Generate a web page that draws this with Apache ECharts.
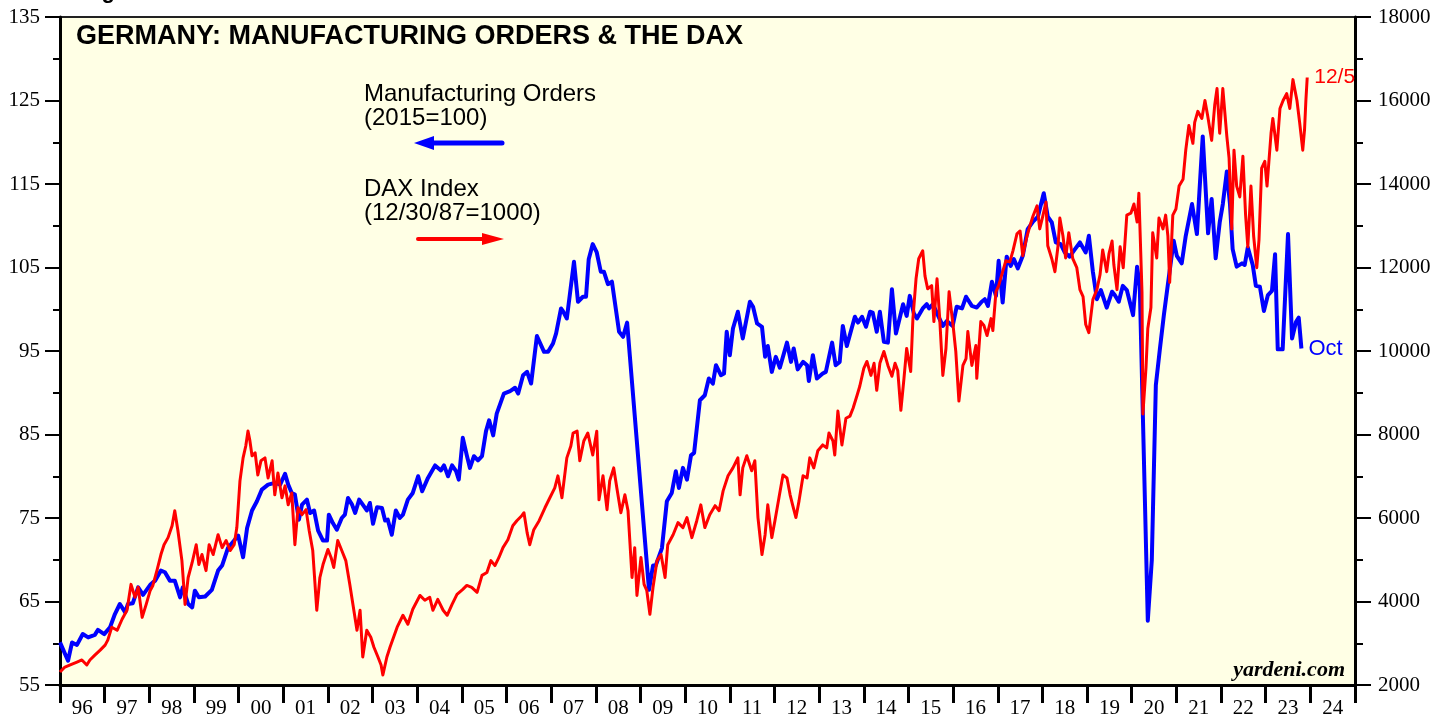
<!DOCTYPE html>
<html>
<head>
<meta charset="utf-8">
<title>Germany: Manufacturing Orders & the DAX</title>
<script src="https://cdn.jsdelivr.net/npm/echarts@6/dist/echarts.min.js"></script>
<style>
html, body { margin: 0; padding: 0; background: #fff; }
#chart { width: 1450px; height: 719px; }
</style>
</head>
<body>
<div id="chart"></div>
<script>
// x axis labels, one per calendar year
let yearLabels = ['96','97','98','99','00','01','02','03','04','05','06','07','08','09','10',
    '11','12','13','14','15','16','17','18','19','20','21','22','23','24'];

// manufacturing orders (2015=100), left axis
let orderYears = [
    1996.00,1996.18,1996.27,1996.38,1996.51,1996.63,1996.78,1996.85,1996.99,
    1997.12,1997.23,1997.34,1997.46,1997.52,1997.63,1997.75,1997.86,
    1998.02,1998.13,1998.26,1998.35,1998.46,1998.57,1998.69,1998.75,1998.87,1998.96,
    1999.02,1999.11,1999.25,1999.40,1999.54,1999.63,1999.76,1999.90,1999.99,
    2000.10,2000.19,2000.30,2000.41,2000.52,2000.66,2000.81,2000.93,
    2001.04,2001.11,2001.19,2001.26,2001.35,2001.42,2001.53,2001.60,2001.69,2001.78,2001.89,2001.98,
    2002.02,2002.11,2002.20,2002.31,2002.38,2002.45,2002.54,2002.61,2002.70,2002.78,2002.87,2002.94,
    2003.01,2003.10,2003.21,2003.28,2003.34,2003.43,2003.52,2003.61,2003.68,2003.79,2003.90,
    2004.02,2004.11,2004.24,2004.40,2004.53,2004.60,2004.69,2004.78,2004.87,2004.93,
    2005.02,2005.11,2005.18,2005.27,2005.36,2005.45,2005.54,2005.61,2005.70,2005.78,2005.94,
    2006.08,2006.19,2006.26,2006.37,2006.46,2006.55,2006.68,2006.84,2006.93,
    2007.04,2007.11,2007.22,2007.26,2007.35,2007.51,2007.60,2007.71,2007.78,2007.84,2007.93,
    2008.02,2008.11,2008.18,2008.27,2008.36,2008.52,2008.61,2008.70,
    2009.19,2009.28,2009.34,2009.48,2009.59,2009.70,2009.79,2009.86,2009.95,
    2010.04,2010.13,2010.20,2010.33,2010.44,2010.53,2010.62,2010.69,2010.80,2010.87,2010.93,
    2011.00,2011.07,2011.18,2011.29,2011.45,2011.52,2011.61,2011.72,2011.79,2011.85,2011.94,
    2012.03,2012.12,2012.28,2012.37,2012.43,2012.52,2012.64,2012.73,2012.77,2012.86,2012.95,
    2013.08,2013.15,2013.29,2013.37,2013.46,2013.53,2013.62,2013.80,2013.87,2013.96,
    2014.05,2014.14,2014.20,2014.29,2014.36,2014.45,2014.54,2014.63,2014.72,2014.88,2014.96,
    2015.03,2015.12,2015.19,2015.32,2015.41,2015.46,2015.55,2015.64,2015.77,2015.86,2015.99,
    2016.08,2016.20,2016.29,2016.42,2016.53,2016.64,2016.71,2016.78,2016.87,2016.96,
    2017.02,2017.11,2017.20,2017.29,2017.36,2017.45,2017.56,2017.67,2017.79,2017.90,
    2018.03,2018.12,2018.21,2018.30,2018.41,2018.50,2018.61,2018.73,2018.84,2018.97,
    2019.04,2019.13,2019.22,2019.31,2019.44,2019.56,2019.62,2019.71,2019.80,2019.89,
    2020.03,2020.12,2020.18,2020.36,2020.45,2020.54,2020.63,2020.72,2020.81,2020.94,
    2021.01,2021.12,2021.21,2021.35,2021.46,2021.59,2021.71,2021.79,2021.88,2021.97,
    2022.04,2022.13,2022.20,2022.26,2022.35,2022.47,2022.53,2022.60,2022.71,2022.78,2022.87,2022.96,
    2023.05,2023.14,2023.21,2023.27,2023.38,2023.50,2023.59,2023.68,2023.74,2023.80
];
let orderValues = [
    60.1,57.9,60.1,59.8,61.1,60.7,61.0,61.6,61.1,
    61.9,63.5,64.7,63.7,64.7,64.8,66.7,65.8,
    67.0,67.5,68.7,68.5,67.5,67.5,65.5,66.7,64.7,64.3,
    66.3,65.5,65.6,66.4,68.7,69.3,71.4,72.3,72.9,
    70.3,73.8,75.9,77.0,78.4,79.0,79.2,79.0,
    80.3,79.0,78.0,77.8,74.8,76.6,77.2,75.6,75.9,73.5,72.3,72.3,
    75.4,74.4,73.6,75.0,75.4,77.4,76.6,75.6,77.2,76.6,75.9,76.8,
    74.3,76.3,76.2,74.7,74.8,73.0,75.9,75.0,75.4,77.2,78.0,
    80.0,78.2,79.8,81.3,80.7,81.3,80.0,81.3,80.6,79.6,
    84.6,82.5,81.0,82.4,81.9,82.4,85.4,86.7,84.9,87.5,89.9,
    90.2,90.6,89.9,92.1,92.5,91.1,96.8,94.9,94.9,
    95.9,97.1,100.1,99.8,98.9,105.7,100.9,101.5,101.5,106.0,107.8,
    106.8,104.5,104.5,103.0,103.3,97.3,96.7,98.4,
    66.4,69.3,69.3,71.4,77.0,78.0,80.6,78.6,81.0,
    79.6,82.5,82.8,89.1,89.7,91.7,91.1,93.3,92.1,92.3,97.3,
    94.5,97.7,99.7,96.5,100.9,100.3,98.3,97.9,94.3,95.6,92.5,
    94.3,93.0,96.0,93.7,95.3,92.8,93.7,93.3,91.4,94.5,91.7,
    92.3,92.5,96.0,93.3,93.7,98.0,95.6,99.1,98.4,99.1,
    97.9,99.7,99.6,97.3,99.7,96.1,96.0,102.4,97.1,100.6,99.2,
    101.6,99.5,98.9,100.1,100.6,100.1,100.6,99.5,98.0,98.6,98.0,
    100.3,100.1,101.5,100.4,100.2,100.9,101.2,100.4,103.3,101.6,
    105.8,100.8,106.3,105.2,106.0,104.9,106.4,109.6,110.5,111.1,
    113.9,111.1,110.4,108.0,107.8,106.8,106.3,107.2,108.0,106.8,
    108.8,104.5,101.2,102.3,100.2,102.1,101.7,100.9,102.8,102.3,
    99.3,105.1,102.8,62.7,70.0,90.9,95.2,99.3,103.0,108.2,
    106.4,105.5,108.8,112.6,109.0,120.7,109.1,113.2,106.1,110.4,
    112.6,116.5,112.6,107.2,105.1,105.5,105.3,107.4,105.3,102.8,102.7,99.8,
    101.7,102.2,106.6,95.2,95.2,109.0,96.5,98.5,99.0,95.3
];

// DAX index (12/30/87=1000), right axis
let daxYears = [
    1996.00,1996.11,1996.27,1996.38,1996.49,1996.60,1996.67,1996.78,1996.90,
    1997.01,1997.07,1997.16,1997.28,1997.39,1997.50,1997.59,1997.68,1997.75,1997.84,1997.93,
    1998.02,1998.08,1998.17,1998.26,1998.33,1998.42,1998.51,1998.57,1998.64,1998.73,1998.80,1998.87,1998.96,
    1999.05,1999.11,1999.18,1999.27,1999.34,1999.43,1999.54,1999.63,1999.72,1999.81,1999.90,1999.96,
    2000.03,2000.10,2000.16,2000.21,2000.25,2000.30,2000.37,2000.43,2000.50,2000.59,2000.66,2000.75,2000.81,2000.88,2000.97,
    2001.04,2001.11,2001.19,2001.26,2001.33,2001.42,2001.51,2001.58,2001.66,2001.75,2001.82,2001.89,
    2002.00,2002.07,2002.13,2002.22,2002.31,2002.40,2002.49,2002.56,2002.65,2002.72,2002.78,2002.87,2002.96,
    2003.03,2003.12,2003.19,2003.23,2003.32,2003.39,2003.55,2003.68,2003.79,2003.90,
    2004.06,2004.17,2004.28,2004.35,2004.46,2004.58,2004.67,2004.78,2004.89,
    2005.02,2005.11,2005.22,2005.34,2005.45,2005.56,2005.65,2005.74,2005.83,2005.92,
    2006.03,2006.14,2006.23,2006.34,2006.39,2006.46,2006.52,2006.61,2006.73,2006.86,2006.97,
    2007.08,2007.15,2007.24,2007.35,2007.44,2007.49,2007.58,2007.64,2007.73,2007.82,2007.93,
    2008.02,2008.07,2008.16,2008.25,2008.31,2008.40,2008.47,2008.56,2008.65,2008.72,2008.81,2008.87,2008.92,
    2009.01,2009.08,2009.14,2009.21,2009.28,2009.37,2009.46,2009.55,2009.61,2009.73,2009.84,2009.95,
    2010.04,2010.15,2010.26,2010.35,2010.44,2010.55,2010.67,2010.76,2010.85,2010.96,
    2011.07,2011.18,2011.23,2011.29,2011.38,2011.49,2011.56,2011.63,2011.72,2011.79,2011.85,2011.94,
    2012.01,2012.10,2012.19,2012.28,2012.35,2012.41,2012.48,2012.55,2012.64,2012.73,2012.79,2012.88,2012.97,
    2013.08,2013.17,2013.22,2013.31,2013.35,2013.42,2013.51,2013.60,2013.69,2013.76,2013.85,2013.91,
    2014.00,2014.07,2014.16,2014.23,2014.29,2014.36,2014.45,2014.54,2014.63,2014.70,2014.76,2014.83,2014.90,2014.96,
    2015.05,2015.10,2015.17,2015.23,2015.32,2015.37,2015.43,2015.52,2015.57,2015.64,2015.70,2015.77,2015.84,2015.91,
    2016.00,2016.06,2016.13,2016.22,2016.29,2016.33,2016.42,2016.51,2016.53,2016.62,2016.69,2016.76,2016.85,2016.89,2016.96,
    2017.02,2017.11,2017.18,2017.27,2017.34,2017.43,2017.50,2017.56,2017.65,2017.72,2017.79,2017.88,2017.94,
    2018.01,2018.08,2018.12,2018.21,2018.28,2018.35,2018.39,2018.46,2018.52,2018.59,2018.68,2018.77,2018.84,2018.91,2018.97,
    2019.04,2019.13,2019.22,2019.29,2019.35,2019.44,2019.49,2019.56,2019.60,2019.67,2019.74,2019.81,2019.89,2019.98,
    2020.05,2020.12,2020.16,2020.23,2020.25,2020.32,2020.36,2020.43,2020.47,2020.56,2020.61,2020.70,2020.76,2020.81,2020.85,2020.92,2020.99,
    2021.06,2021.15,2021.21,2021.28,2021.37,2021.41,2021.48,2021.57,2021.64,2021.70,2021.79,2021.86,2021.91,2021.97,
    2022.04,2022.13,2022.18,2022.24,2022.29,2022.35,2022.42,2022.49,2022.55,2022.60,2022.67,2022.73,2022.80,2022.85,2022.91,2022.98,
    2023.03,2023.12,2023.16,2023.25,2023.32,2023.39,2023.47,2023.54,2023.61,2023.70,2023.76,2023.83,2023.87,2023.90,2023.93
];
let daxValues = [
    2310,2430,2500,2550,2600,2480,2600,2715,2835,
    2955,3075,3385,3310,3575,3790,4410,4100,4340,3620,3930,
    4265,4385,4740,5125,5360,5530,5815,6175,5700,4980,3930,4575,4935,
    5360,4885,5125,4740,5360,5125,5600,5290,5460,5220,5360,5770,
    6890,7440,7725,8085,7870,7490,7560,7030,7370,7440,6960,7370,6555,7080,6485,
    6770,6315,6600,5360,6245,6080,6200,5700,5220,3790,4575,4885,
    5245,5055,4815,5460,5220,4980,4410,3930,3310,3790,2670,3310,3145,
    2905,2670,2480,2240,2670,2905,3385,3670,3455,3815,
    4145,4030,4100,3790,4050,3790,3670,3930,4170,
    4290,4385,4340,4220,4625,4695,4980,4860,5055,5290,
    5480,5815,5935,6055,6125,5650,5360,5720,5935,6245,6485,
    6720,7010,6485,7440,7725,8035,8080,7370,7845,8035,7510,
    8080,6435,7010,6200,6890,7200,6720,6125,6555,6175,4575,5290,4145,
    5055,4410,4265,3695,4340,4980,5125,4575,5360,5600,5890,5770,
    6010,5530,5935,6315,5770,6080,6295,6175,6650,7010,
    7200,7440,6555,7200,7490,7130,7370,6010,5125,5600,6315,5530,
    5935,6485,7030,6960,6555,6295,6010,6410,7010,6960,7440,7200,7610,
    7750,7680,8035,7845,7510,8560,7750,8390,8440,8630,8940,9155,
    9585,9750,9415,9705,9060,9705,9990,9655,9395,9705,9535,8580,9345,10060,
    9510,10775,11730,12210,12400,11800,11490,11565,10705,11730,10775,9415,10060,11420,
    10610,9990,8800,9655,9820,10465,9655,10130,9345,10705,10610,10370,10775,10490,11420,
    11565,11900,12160,12135,12400,12805,12875,12280,12730,12995,13235,13475,12925,
    13235,13570,12520,12210,11900,12520,13185,12755,12230,12830,12210,11995,11470,11300,10635,
    10440,11230,11470,11825,12420,11900,12325,12635,12065,11470,12495,11995,13255,13300,
    13520,13090,13780,11400,8490,9610,10540,11040,12830,12230,13185,12925,13255,12755,11640,13255,13400,
    13950,14115,14810,15400,14975,15475,15740,15570,16000,15640,15045,15905,16285,15215,
    16285,15140,14620,12925,14810,13950,13690,14665,13255,12495,13950,12755,11995,12660,14380,14545,
    13950,15215,15570,14810,15810,16000,16165,15810,16500,16000,15475,14810,15300,16000,16550
];

let orders = orderYears.map(function (y, i) { return [y, orderValues[i]]; });
let dax = daxYears.map(function (y, i) { return [y, daxValues[i]]; });

let serif = 'Liberation Serif';
let sans = 'Liberation Sans';

let chart = echarts.init(document.getElementById('chart'));

let option = {
    animation: false,
    backgroundColor: '#ffffff',
    grid: {
        left: 60,
        right: 95,
        top: 17,
        bottom: 31,
        show: true,
        backgroundColor: '#ffffe5',
        borderColor: '#222',
        borderWidth: 2
    },
    xAxis: [
        {
            type: 'value',
            min: 1996,
            max: 2025,
            show: false
        },
        {
            type: 'category',
            data: yearLabels,
            position: 'bottom',
            boundaryGap: true,
            axisLine: { lineStyle: { color: '#000', width: 3 } },
            axisTick: { show: true, interval: 0, length: 18, lineStyle: { color: '#000', width: 3 } },
            axisLabel: { interval: 0, margin: 13, color: '#000', fontFamily: serif, fontSize: 21 },
            splitLine: { show: false }
        }
    ],
    yAxis: [
        {
            type: 'value',
            position: 'left',
            min: 55,
            max: 135,
            interval: 10,
            axisLine: { show: true, lineStyle: { color: '#000', width: 3 } },
            axisTick: { show: true, length: 15, lineStyle: { color: '#000', width: 2 } },
            minorTick: { show: true, splitNumber: 2, length: 7, lineStyle: { color: '#000', width: 2 } },
            axisLabel: { margin: 20, color: '#000', fontFamily: serif, fontSize: 21 },
            splitLine: { show: false }
        },
        {
            type: 'value',
            position: 'right',
            min: 2000,
            max: 18000,
            interval: 2000,
            axisLine: { show: true, lineStyle: { color: '#000', width: 3 } },
            axisTick: { show: true, length: 16, lineStyle: { color: '#000', width: 2 } },
            minorTick: { show: true, splitNumber: 2, length: 8, lineStyle: { color: '#000', width: 2 } },
            axisLabel: {
                margin: 23, color: '#000', fontFamily: serif, fontSize: 21,
                formatter: function (v) { return String(v); }
            },
            splitLine: { show: false }
        }
    ],
    series: [
        {
            name: 'Manufacturing Orders',
            type: 'line',
            xAxisIndex: 0,
            yAxisIndex: 0,
            data: orders,
            showSymbol: false,
            lineStyle: { color: '#0000ff', width: 4, join: 'round' },
            endLabel: {
                show: true,
                formatter: 'Oct',
                color: '#0000ff',
                fontFamily: sans,
                fontSize: 22,
                distance: 7
            }
        },
        {
            name: 'DAX Index',
            type: 'line',
            xAxisIndex: 0,
            yAxisIndex: 1,
            data: dax,
            showSymbol: false,
            lineStyle: { color: '#ff0000', width: 3, join: 'round' },
            endLabel: {
                show: true,
                formatter: '12/5',
                color: '#ff0000',
                fontFamily: sans,
                fontSize: 21,
                distance: 7
            }
        }
    ],
    graphic: [
        {
            type: 'text', left: 82, top: -19,
            style: { text: 'Figure 5.', font: 'bold 22px "Liberation Sans"', fill: '#000' }
        },
        {
            type: 'text', left: 76, top: 23,
            style: { text: 'GERMANY: MANUFACTURING ORDERS & THE DAX', font: 'bold 27px "Liberation Sans"', fill: '#000' }
        },
        {
            type: 'text', left: 364, top: 82,
            style: { text: 'Manufacturing Orders', font: '24px "Liberation Sans"', fill: '#000' }
        },
        {
            type: 'text', left: 364, top: 106,
            style: { text: '(2015=100)', font: '24px "Liberation Sans"', fill: '#000' }
        },
        {
            type: 'text', left: 364, top: 177,
            style: { text: 'DAX Index', font: '24px "Liberation Sans"', fill: '#000' }
        },
        {
            type: 'text', left: 364, top: 201,
            style: { text: '(12/30/87=1000)', font: '24px "Liberation Sans"', fill: '#000' }
        },
        {
            type: 'polyline',
            shape: { points: [[430, 143], [502, 143]] },
            style: { stroke: '#0000ff', lineWidth: 5, lineCap: 'round' }
        },
        {
            type: 'polygon',
            shape: { points: [[414, 143], [434, 136], [434, 150]] },
            style: { fill: '#0000ff' }
        },
        {
            type: 'polyline',
            shape: { points: [[418, 239], [486, 239]] },
            style: { stroke: '#ff0000', lineWidth: 4, lineCap: 'round' }
        },
        {
            type: 'polygon',
            shape: { points: [[504, 239], [482, 233], [482, 245]] },
            style: { fill: '#ff0000' }
        },
        {
            type: 'text', right: 105, top: 659,
            style: { text: 'yardeni.com', font: 'italic bold 22px "Liberation Serif"', fill: '#000' }
        }
    ]
};

chart.setOption(option);
</script>
</body>
</html>
